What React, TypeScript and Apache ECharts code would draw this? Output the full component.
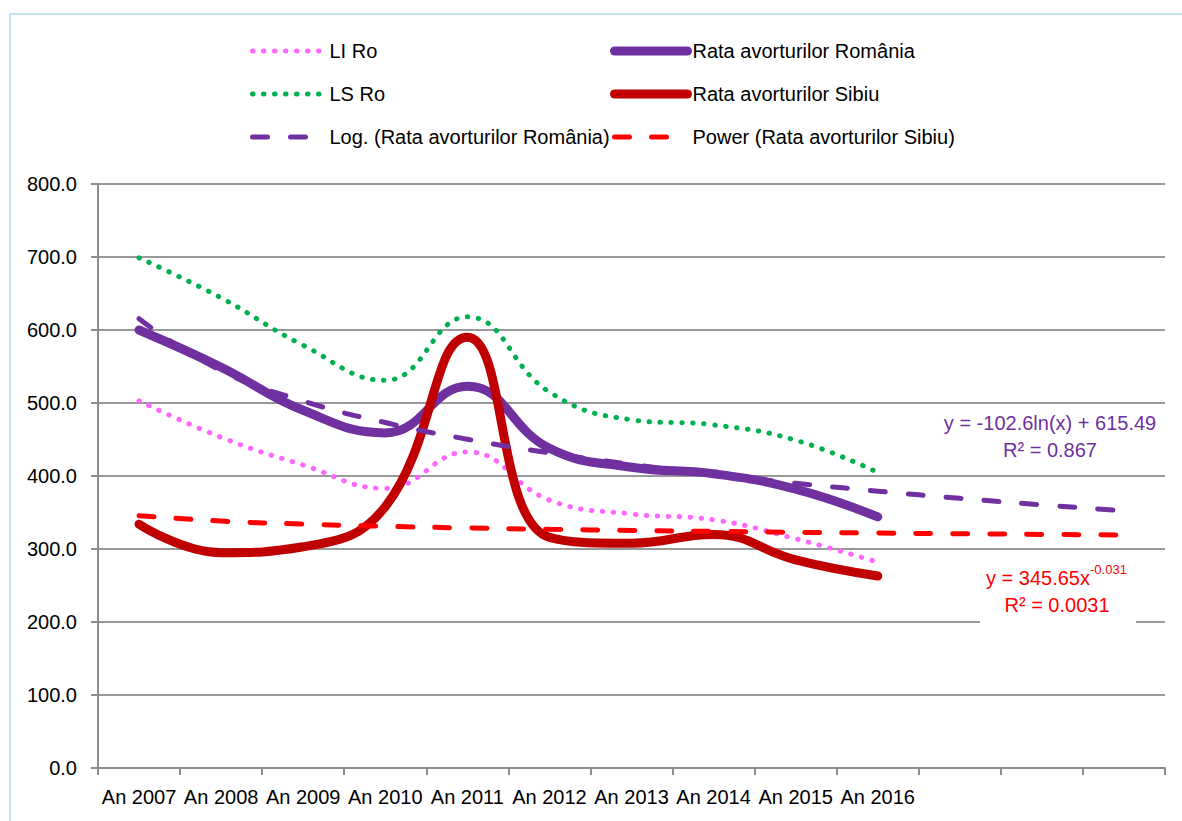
import React, { useEffect, useRef } from "react";
import * as echarts from "echarts";

const categories = ["An 2007", "An 2008", "An 2009", "An 2010", "An 2011", "An 2012", "An 2013", "An 2014", "An 2015", "An 2016", "", "", ""];
const liRo = [503, 453, 415, 383, 433, 367, 348, 340, 314, 282];
const lsRo = [699, 644, 579, 531, 618, 515, 477, 470, 449, 405];
const rataRo = [600, 549, 490, 459, 523, 438, 412, 403, 382, 344];
const rataSibiu = [334, 295, 303, 358, 590, 316, 308, 320, 285, 263];
const logTrend = [615.49, 544.37, 502.77, 473.26, 450.36, 431.66, 415.84, 402.14, 390.06, 379.25, 369.47, 360.54, 352.33];
const powerTrend = [345.65, 338.3, 334.07, 331.11, 328.83, 326.97, 325.42, 324.07, 322.89, 321.83, 320.89, 320.02, 319.23];

const FONT = "'Liberation Sans', Arial, sans-serif";
const FS = 20;

export default function App() {
  const ref = useRef<HTMLDivElement>(null);
  useEffect(() => {
    if (!ref.current) return;
    const chart = echarts.init(ref.current, null, { renderer: "svg" });
    const textStyle = { fontFamily: FONT, fontSize: FS, color: "#000", lineHeight: 22 };
    const legendBase = {
      orient: "vertical",
      top: 40,
      itemHeight: 22,
      itemGap: 21,
      padding: 0,
      textStyle,
      lineStyle: { width: "inherit" },
      itemStyle: { opacity: 0 },
    };
    chart.setOption({
      animation: false,
      backgroundColor: "#fff",
      textStyle: { fontFamily: FONT },
      grid: { left: 98, right: 17, top: 184, bottom: 53, containLabel: false },
      legend: [
        { ...legendBase, left: 250, itemWidth: 72, data: ["LI Ro", "LS Ro", "Log. (Rata avorturilor România)"] },
        { ...legendBase, left: 610, itemWidth: 73, data: ["Rata avorturilor România", "Rata avorturilor Sibiu", "Power (Rata avorturilor Sibiu)"] },
      ],
      xAxis: {
        type: "category",
        data: categories,
        boundaryGap: true,
        axisLine: { show: true, lineStyle: { color: "#8c8c8c", width: 2 } },
        axisTick: { show: true, length: 7, interval: 0, lineStyle: { color: "#8c8c8c", width: 2 } },
        axisLabel: { interval: 0, fontFamily: FONT, fontSize: FS, color: "#000", margin: 19 },
        splitLine: { show: false },
      },
      yAxis: {
        type: "value",
        min: 0,
        max: 800,
        interval: 100,
        axisLine: { show: true, lineStyle: { color: "#8c8c8c", width: 2 } },
        axisTick: { show: true, length: 7, lineStyle: { color: "#8c8c8c", width: 2 } },
        axisLabel: { fontFamily: FONT, fontSize: FS, color: "#000", margin: 21, formatter: (v: number) => v.toFixed(1) },
        splitLine: { show: true, lineStyle: { color: "#999999", width: 2 } },
      },
      series: [
        {
          name: "LI Ro", type: "line", data: liRo, smooth: 0.45, symbol: "none",
          lineStyle: { color: "#ff66ff", width: 5, type: [0.5, 10.5], cap: "round" }, itemStyle: { color: "#ff66ff" },
        },
        {
          name: "LS Ro", type: "line", data: lsRo, smooth: 0.45, symbol: "none",
          lineStyle: { color: "#00b050", width: 5, type: [0.5, 10.5], cap: "round" }, itemStyle: { color: "#00b050" },
        },
        {
          name: "Rata avorturilor România", type: "line", data: rataRo, smooth: 0.45, symbol: "none",
          lineStyle: { color: "#7030a0", width: 9, cap: "round" }, itemStyle: { color: "#7030a0" },
        },
        {
          name: "Rata avorturilor Sibiu", type: "line", data: rataSibiu, smooth: 0.45, symbol: "none",
          lineStyle: { color: "#c00000", width: 9, cap: "round" }, itemStyle: { color: "#c00000" },
        },
        {
          name: "Log. (Rata avorturilor România)", type: "line", data: logTrend, smooth: true, symbol: "none",
          lineStyle: { color: "#7030a0", width: 5, type: [15, 23], cap: "round" }, itemStyle: { color: "#7030a0" },
        },
        {
          name: "Power (Rata avorturilor Sibiu)", type: "line", data: powerTrend, smooth: true, symbol: "none",
          lineStyle: { color: "#ff0000", width: 5, type: [15, 22], cap: "round" }, itemStyle: { color: "#ff0000" },
        },
      ],
      graphic: [
        { type: "line", z: 100, shape: { x1: 10, y1: 14, x2: 1182, y2: 14 }, style: { stroke: "#c3e2ec", lineWidth: 2 } },
        { type: "line", z: 100, shape: { x1: 10, y1: 14, x2: 10, y2: 821 }, style: { stroke: "#c3e2ec", lineWidth: 2 } },
        { type: "rect", z: 100, shape: { x: 980, y: 558, width: 156, height: 72 }, style: { fill: "#fff" } },
        {
          type: "text", z: 101, x: 1050, y: 423,
          style: { text: "y = -102.6ln(x) + 615.49", fill: "#7030a0", font: `${FS}px ${FONT}`, align: "center", verticalAlign: "middle" },
        },
        {
          type: "text", z: 101, x: 1050, y: 450,
          style: { text: "R² = 0.867", fill: "#7030a0", font: `${FS}px ${FONT}`, align: "center", verticalAlign: "middle" },
        },
        {
          type: "text", z: 101, x: 1090, y: 578,
          style: { text: "y = 345.65x", fill: "#ff0000", font: `${FS}px ${FONT}`, align: "right", verticalAlign: "middle" },
        },
        {
          type: "text", z: 101, x: 1090, y: 569,
          style: { text: "-0.031", fill: "#ff0000", font: `13px ${FONT}`, align: "left", verticalAlign: "middle" },
        },
        {
          type: "text", z: 101, x: 1057, y: 605,
          style: { text: "R² = 0.0031", fill: "#ff0000", font: `${FS}px ${FONT}`, align: "center", verticalAlign: "middle" },
        },
      ],
    });
    return () => chart.dispose();
  }, []);
  return <div ref={ref} style={{ width: 1182, height: 821, position: "absolute", left: 0, top: 0 }} />;
}
